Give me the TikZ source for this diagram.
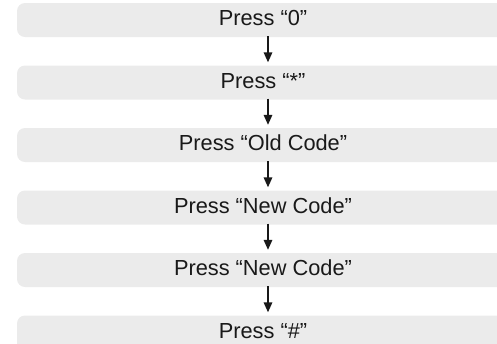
\documentclass[tikz,border=0pt]{standalone}
\usepackage{fontspec}
\setmainfont{Liberation Sans}
\usetikzlibrary{arrows.meta}

\begin{document}
\begin{tikzpicture}[x=0.02cm, y=-0.02cm,
        bar/.style={fill=black!8, rounded corners=0.16cm},
        stepnode/.style={inner xsep=0pt, inner ysep=0.2cm, text height=8.9pt,
            text depth=0pt, text=black!90, font=\fontsize{12.4}{14}\selectfont},
        flow/.style={-{Triangle[width=0.17cm,length=0.2cm]}, line width=0.9pt, black!90}]

        % Picture frame (in pixels of the reference)
        \clip (0, 0) rectangle (497, 343);

        % Grey bands behind the steps
        \fill [bar] (17, 3) rectangle (520, 37);
        \fill [bar] (17, 65.5) rectangle (520, 99.5);
        \fill [bar] (17, 128) rectangle (520, 162);
        \fill [bar] (17, 190.5) rectangle (520, 224.5);
        \fill [bar] (17, 253) rectangle (520, 287);
        \fill [bar] (17, 315.5) rectangle (520, 355);

        % Steps
        \node [stepnode] (p0) at (263, 18) {Press “0”};
        \node [stepnode] (p1) at (263, 80.5) {Press “*”};
        \node [stepnode] (p2) at (263, 143) {Press “Old Code”};
        \node [stepnode] (p3) at (263, 205.5) {Press “New Code”};
        \node [stepnode] (p4) at (263, 268) {Press “New Code”};
        \node [stepnode] (p5) at (263, 330.5) {Press “\#”};

        % Arrows between the steps
        \draw [flow] ([xshift=0.1cm]p0.south) -- ([xshift=0.1cm]p1.north);
        \draw [flow] ([xshift=0.1cm]p1.south) -- ([xshift=0.1cm]p2.north);
        \draw [flow] ([xshift=0.1cm]p2.south) -- ([xshift=0.1cm]p3.north);
        \draw [flow] ([xshift=0.1cm]p3.south) -- ([xshift=0.1cm]p4.north);
        \draw [flow] ([xshift=0.1cm]p4.south) -- ([xshift=0.1cm]p5.north);
\end{tikzpicture}
\end{document}
